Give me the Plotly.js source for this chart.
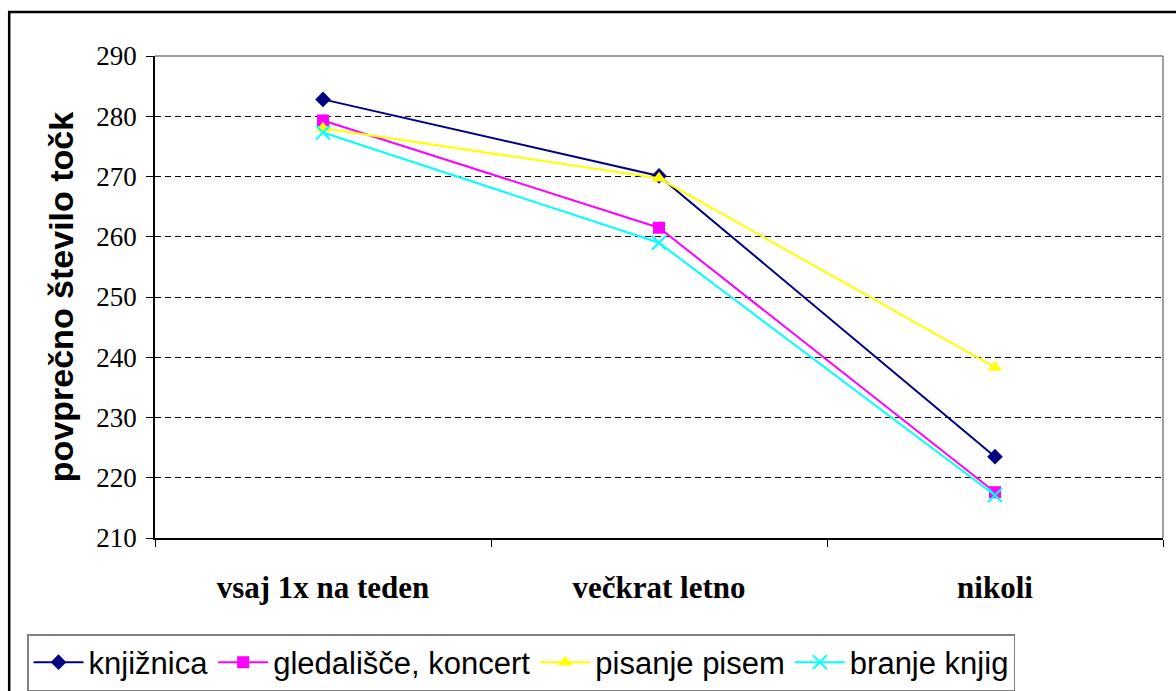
<!DOCTYPE html>
<html>
<head>
<meta charset="utf-8">
<script src="https://cdn.plot.ly/plotly-3.0.1.min.js"></script>
<style>
  html, body { margin: 0; padding: 0; background: #ffffff; }
  #chart { width: 1176px; height: 691px; }
</style>
</head>
<body>
<div id="chart"></div>
<script>
// ---- data ----
const categories = ["vsaj 1x na teden", "večkrat letno", "nikoli"];
const seriesNames = ["knjižnica", "gledališče, koncert", "pisanje pisem", "branje knjig"];
const knjiznica = [282.8, 270.1, 223.5];
const gledalisce = [279.3, 261.5, 217.6];
const pisanje = [278.0, 269.7, 238.3];
const branje = [277.3, 259.0, 217.1];
const yTickVals = [210, 220, 230, 240, 250, 260, 270, 280, 290];
const yTitle = "povprečno število točk";

// ---- styles ----
const styles = [
  { color: "#000080", symbol: "diamond", size: 12, lw: 0 },
  { color: "#FF00FF", symbol: "square", size: 12, lw: 0 },
  { color: "#FFFF00", symbol: "triangle-up", size: 13, lw: 0 },
  { color: "#00FFFF", symbol: "x-thin", size: 14, lw: 2 }
];
const values = [knjiznica, gledalisce, pisanje, branje];

const traces = values.map((v, i) => ({
  type: "scatter",
  mode: "lines+markers",
  name: seriesNames[i],
  x: categories,
  y: v,
  line: { color: styles[i].color, width: 2 },
  marker: {
    symbol: styles[i].symbol,
    size: styles[i].size,
    color: styles[i].color,
    line: { color: styles[i].color, width: styles[i].lw }
  },
  hoverinfo: "x+y+name"
}));

const L = 155, R = 13, T = 56, B = 153, W = 1176, H = 691;
const pw = W - L - R, ph = H - T - B;
const px = (p) => (p - L) / pw;
const py = (p) => (H - B - p) / ph;

const layout = {
  width: W,
  height: H,
  margin: { l: L, r: R, t: T, b: B, pad: 0, autoexpand: false },
  paper_bgcolor: "#ffffff",
  plot_bgcolor: "#ffffff",
  showlegend: true,
  xaxis: {
    type: "category",
    range: [-0.5, 2.5],
    tickson: "boundaries",
    ticks: "outside",
    ticklen: 7,
    tickcolor: "#000000",
    tickwidth: 1,
    showline: true,
    linecolor: "#000000",
    linewidth: 1.5,
    showgrid: false,
    zeroline: false,
    ticklabelstandoff: 21,
    tickfont: { family: "Liberation Serif, Times New Roman, serif", size: 31, color: "#000000", weight: "bold" },
    fixedrange: true
  },
  yaxis: {
    range: [210, 290],
    tickvals: yTickVals,
    ticktext: yTickVals.map(String),
    ticks: "outside",
    ticklen: 7,
    tickcolor: "#000000",
    tickwidth: 1,
    showline: true,
    linecolor: "#000000",
    linewidth: 1.5,
    showgrid: true,
    gridcolor: "#000000",
    gridwidth: 1,
    griddash: "6px,4px",
    zeroline: false,
    ticklabelstandoff: 4,
    tickfont: { family: "Liberation Serif, Times New Roman, serif", size: 27, color: "#000000" },
    title: {
      text: yTitle,
      standoff: 12,
      font: { family: "Liberation Sans, Arial, sans-serif", size: 34, color: "#000000", weight: "bold" }
    },
    fixedrange: true
  },
  legend: {
    orientation: "h",
    x: px(27),
    y: py(634),
    xanchor: "left",
    yanchor: "top",
    bgcolor: "#ffffff",
    bordercolor: "#808080",
    borderwidth: 1.5,
    itemwidth: 50,
    font: { family: "Liberation Sans, Arial, sans-serif", size: 31, color: "#000000" },
    traceorder: "normal"
  },
  shapes: [
    // gray plot frame top & right
    { type: "line", xref: "paper", yref: "paper", x0: 0, x1: 1, y0: 1, y1: 1,
      line: { color: "#808080", width: 1.5 }, layer: "above" },
    { type: "line", xref: "paper", yref: "paper", x0: 1, x1: 1, y0: 0, y1: 1,
      line: { color: "#808080", width: 1.5 }, layer: "above" },
    // outer chart border (left and top)
    { type: "path", xref: "paper", yref: "paper",
      path: "M " + px(9.2) + " " + py(700) + " L " + px(9.2) + " " + py(12) + " L " + px(1180) + " " + py(12),
      line: { color: "#000000", width: 2.5 }, layer: "above" }
  ],
  hovermode: "closest"
};

Plotly.newPlot("chart", traces, layout, { displayModeBar: false, staticPlot: false });
</script>
</body>
</html>
